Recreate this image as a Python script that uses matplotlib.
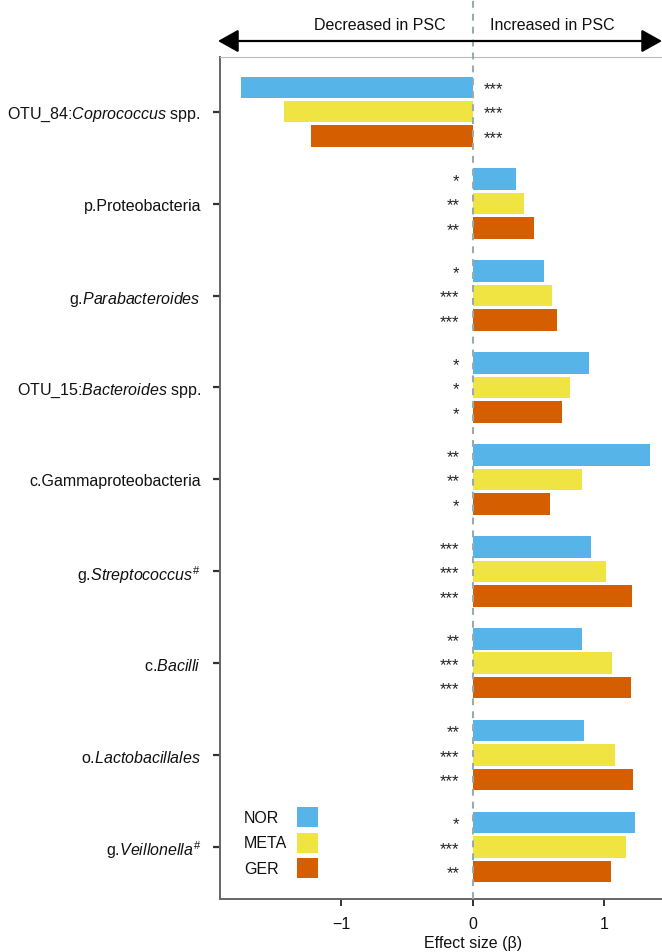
import matplotlib
matplotlib.use("Agg")
import matplotlib.pyplot as plt
import matplotlib.transforms as mtransforms
from matplotlib.patches import Rectangle
import numpy as np

plt.rcParams['font.family'] = ['Liberation Sans', 'DejaVu Sans']
plt.rcParams['mathtext.fontset'] = 'custom'
plt.rcParams['mathtext.rm'] = 'Liberation Sans'
plt.rcParams['mathtext.it'] = 'Liberation Sans:italic'

# taxa, top to bottom
taxa = [r'OTU_84:$\it{Coprococcus}$ spp.',
        'p.Proteobacteria',
        r'g.$\it{Parabacteroides}$',
        r'OTU_15:$\it{Bacteroides}$ spp.',
        'c.Gammaproteobacteria',
        r'g.$\it{Streptococcus}^{\#}$',
        r'c.$\it{Bacilli}$',
        r'o.$\it{Lactobacillales}$',
        r'g.$\it{Veillonella}^{\#}$']

cohorts = ['NOR', 'META', 'GER']
colors = ['#56B4E9', '#F0E442', '#D55E00']

# effect sizes (beta) per cohort
beta_nor = [-1.76, 0.33, 0.54, 0.88, 1.345, 0.90, 0.826, 0.845, 1.235]
beta_meta = [-1.43, 0.39, 0.60, 0.735, 0.83, 1.015, 1.06, 1.08, 1.16]
beta_ger = [-1.23, 0.465, 0.64, 0.675, 0.585, 1.21, 1.20, 1.22, 1.05]

sig_nor = ['***', '*', '*', '*', '**', '***', '**', '**', '*']
sig_meta = ['***', '**', '***', '*', '**', '***', '***', '***', '***']
sig_ger = ['***', '**', '***', '*', '*', '***', '***', '***', '**']

betas = [beta_nor, beta_meta, beta_ger]
sigs = [sig_nor, sig_meta, sig_ger]

fig = plt.figure(figsize=(6.62, 9.53), dpi=100)
ax = fig.add_axes([0.333, 0.0556, 0.667, 0.884])

y = np.arange(len(taxa))
offsets = [-0.266, 0.0, 0.266]
for vals, sg, col, off in zip(betas, sigs, colors, offsets):
    ax.barh(y + off, vals, height=0.234, color=col, zorder=2)
    for yi, v, s in zip(y, vals, sg):
        if v >= 0:
            ax.text(-0.10, yi + off + 0.064, s, ha='right', va='baseline',
                    fontsize=12, color='#222222')
        else:
            ax.text(0.08, yi + off + 0.064, s, ha='left', va='baseline',
                    fontsize=12, color='#222222')

ax.set_xlim(-1.915, 1.437)
ax.set_ylim(8.565, -0.6)

# zero line, running up through the header
ax.plot([0, 0], [8.565, -1.25], color='#9aabb0', lw=1.5,
        dashes=(3.3, 2.9), zorder=5, clip_on=False)

ax.set_yticks(y)
ax.set_yticklabels(taxa, fontsize=11.5, color='#111111')
ax.set_xticks([-1, 0, 1])
ax.tick_params(axis='y', length=5, width=1.6, pad=9, color='#333333')
ax.tick_params(axis='x', length=5, width=1.4, pad=7, color='#333333',
               labelsize=11.5, labelcolor='#111111')

for side in ['left', 'bottom']:
    ax.spines[side].set_color('#666666')
    ax.spines[side].set_linewidth(1.4)
ax.spines['top'].set_color('#bbbbbb')
ax.spines['top'].set_linewidth(0.8)
ax.spines['right'].set_visible(False)

blend = mtransforms.blended_transform_factory(ax.transData, ax.transAxes)
ax.set_xlabel('Effect size (β)', fontsize=11.5, color='#111111')
ax.xaxis.set_label_coords(0, -0.043, transform=blend)

# cohort key
key_y = [0.0973, 0.067, 0.0368]
for name, col, ky in zip(cohorts, colors, key_y):
    ax.text(0.0532, ky, name, transform=ax.transAxes, ha='left', va='center',
            fontsize=11.5, color='#111111')
    ax.add_patch(Rectangle((0.1733, ky - 0.0119), 0.0476, 0.0238,
                           transform=ax.transAxes, facecolor=col,
                           edgecolor='none', zorder=3))

# direction header
fig.patches.append(matplotlib.patches.FancyArrowPatch(
    (218 / 662, 1 - 42 / 953), (662 / 662, 1 - 42 / 953),
    transform=fig.transFigure,
    arrowstyle='<|-|>,head_length=1.25,head_width=0.7',
    mutation_scale=10, lw=1.6, color='black', shrinkA=0, shrinkB=0))
fig.text(380 / 662, 1 - 25 / 953, 'Decreased in PSC', ha='center',
         va='center', fontsize=11.5, color='#111111')
fig.text(552 / 662, 1 - 25 / 953, 'Increased in PSC', ha='center',
         va='center', fontsize=11.5, color='#111111')

fig.savefig('out.png', dpi=100)
